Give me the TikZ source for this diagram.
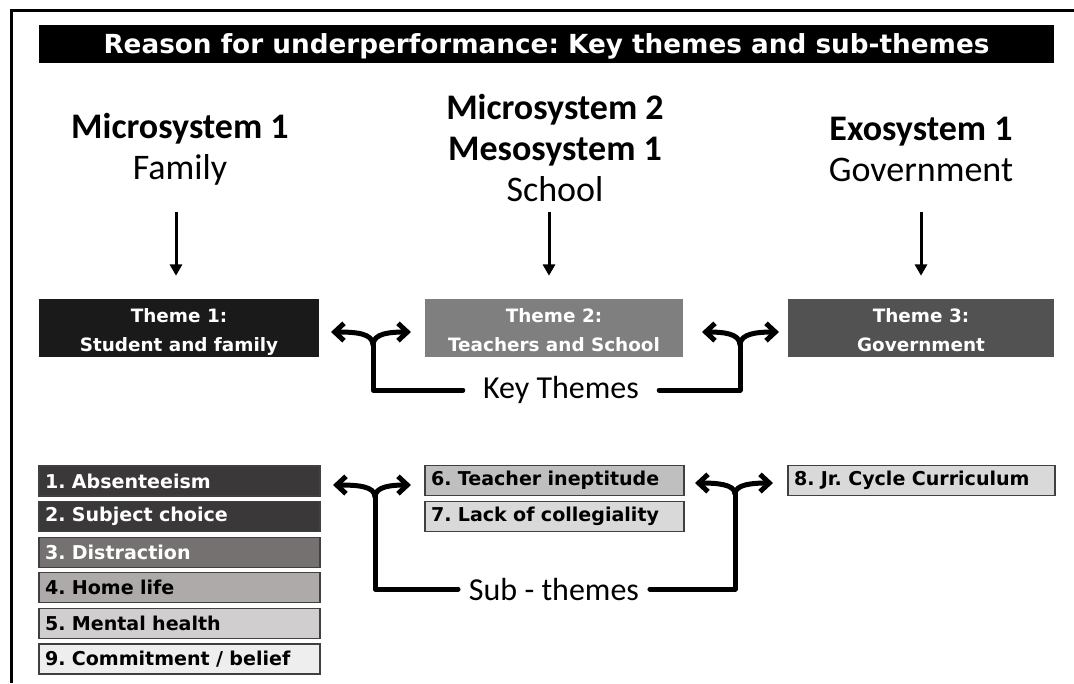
\documentclass[tikz,border=0pt]{standalone}
\usepackage{fontspec}
\setmainfont{Carlito}
\newfontfamily\boxfont{DejaVu Sans}
\usepackage{xcolor}
\usepackage{tikz}
\usetikzlibrary{arrows.meta,positioning,calc}
\frenchspacing
\definecolor{themeA}{HTML}{1A1A1A}
\definecolor{themeB}{HTML}{7F7F7F}
\definecolor{themeC}{HTML}{525252}
\definecolor{subA}{HTML}{3A3838}
\definecolor{subB}{HTML}{767171}
\definecolor{subC}{HTML}{AEAAAA}
\definecolor{subD}{HTML}{D0CECE}
\definecolor{subE}{HTML}{EEEEEE}
\definecolor{subF}{HTML}{BFBFBF}
\definecolor{subG}{HTML}{D9D9D9}
\definecolor{boxline}{HTML}{404040}
\tikzset{
  titlebar/.style={fill=black, text=white, minimum width=761.25pt, minimum height=28.5pt, inner sep=0pt, text depth=0pt, font=\boxfont\bfseries\fontsize{19.7}{24}\selectfont},
  heading/.style={align=center, font=\fontsize{27}{30.75}\selectfont},
  themebox/.style={minimum height=43.5pt, inner sep=0pt, align=center, text=white, text height=35pt, text depth=0pt, font=\boxfont\bfseries\fontsize{13.8}{21.75}\selectfont},
  subbox/.style={draw=boxline, line width=.9pt, minimum height=22.5pt, inner xsep=4.5pt, inner ysep=0pt, text width=#1, align=left, font=\boxfont\bfseries\fontsize{14.3}{16}\selectfont},
  forklabel/.style={inner xsep=8pt, font=\fontsize{24}{28}\selectfont},
  down/.style={-{Triangle[length=8.5pt,width=9pt]}, line width=2.25pt},
  fork/.style={line width=3.75pt, line cap=round, line join=round},
  forktips/.style={fork, {Straight Barb[length=7pt,width=13pt]}-{Straight Barb[length=7pt,width=13pt]}}
}
\begin{document}
\begin{tikzpicture}[x=0.75pt,y=-0.75pt]
  \useasboundingbox (0,0) rectangle (1074,683);
  \draw[line width=2.25pt] (11,683) -- (11,10) -- (1074,10);

  \node[titlebar] (title) at (546.5,44) {Reason for underperformance: Key themes and sub-themes};

  \node[heading] (hfam) at (180,149) {\textbf{Microsystem 1}\\Family};
  \node[heading] (hsch) at (555,148) {\textbf{Microsystem 2}\\\textbf{Mesosystem 1}\\School};
  \node[heading] (hgov) at (921,149) {\textbf{Exosystem 1}\\Government};

  \node[themebox,fill=themeA,minimum width=210pt] (th1) at (179,328) {Theme 1:\\Student and family};
  \node[themebox,fill=themeB,minimum width=193.5pt] (th2) at (554,328) {Theme 2:\\Teachers and School};
  \node[themebox,fill=themeC,minimum width=199.5pt] (th3) at (921,328) {Theme 3:\\Government};

  \coordinate (d1) at (176,212); \coordinate (d2) at (549,212); \coordinate (d3) at (921,212);
  \draw[down,shorten >=17.25pt] (d1) -- (d1 |- th1.north);
  \draw[down,shorten >=17.25pt] (d2) -- (d2 |- th2.north);
  \draw[down,shorten >=17.25pt] (d3) -- (d3 |- th3.north);

  % sub-themes
  \node[subbox=201.75pt,fill=subA,text=white] (s1) at (179.5,481) {1. Absenteeism};
  \node[subbox=201.75pt,fill=subA,text=white,below=3.3pt of s1] (s2) {2. Subject choice};
  \node[subbox=201.75pt,fill=subB,text=white,below=3.3pt of s2] (s3) {3. Distraction};
  \node[subbox=201.75pt,fill=subC,below=3.3pt of s3] (s4) {4. Home life};
  \node[subbox=201.75pt,fill=subD,below=3.3pt of s4] (s5) {5. Mental health};
  \node[subbox=201.75pt,fill=subE,below=3.3pt of s5] (s9) {9. Commitment / belief};
  \node[subbox=185.25pt,fill=subF] (s6) at (554.5,480.5) {6. Teacher ineptitude};
  \node[subbox=185.25pt,fill=subG,below=3.3pt of s6] (s7) {7. Lack of collegiality};
  \node[subbox=191.25pt,fill=subG] (s8) at (921.5,480.5) {8. Jr. Cycle Curriculum};

  % forks
  \node[forklabel,inner xsep=15pt] (keyt) at (561,390) {Key Themes};
  \node[forklabel] (subt) at (554,589) {Sub - themes};

  \coordinate (kl) at (373,345); \coordinate (kl-w) at (331,332); \coordinate (kl-e) at (411,332);
  \coordinate (kr) at (740,345); \coordinate (kr-w) at (702,332); \coordinate (kr-e) at (779,332);
  \coordinate (sl) at (375,497); \coordinate (sl-w) at (333,485); \coordinate (sl-e) at (411,485);
  \coordinate (sr) at (735,494); \coordinate (sr-w) at (695,483); \coordinate (sr-e) at (773,483);

  \draw[forktips] (kl-w) .. controls (355,332) and (373,333) .. (kl) .. controls (373,333) and (391,332) .. (kl-e);
  \draw[forktips] (kr-w) .. controls (722,332) and (740,333) .. (kr) .. controls (740,333) and (759,332) .. (kr-e);
  \draw[forktips] (sl-w) .. controls (357,485) and (375,486) .. (sl) .. controls (375,486) and (393,485) .. (sl-e);
  \draw[forktips] (sr-w) .. controls (716,483) and (735,484) .. (sr) .. controls (735,484) and (754,483) .. (sr-e);
  \draw[fork] (kl) |- (keyt.west);
  \draw[fork] (keyt.east) -| (kr);
  \draw[fork] (sl) |- (subt.west);
  \draw[fork] (subt.east) -| (sr);
\end{tikzpicture}
\end{document}
